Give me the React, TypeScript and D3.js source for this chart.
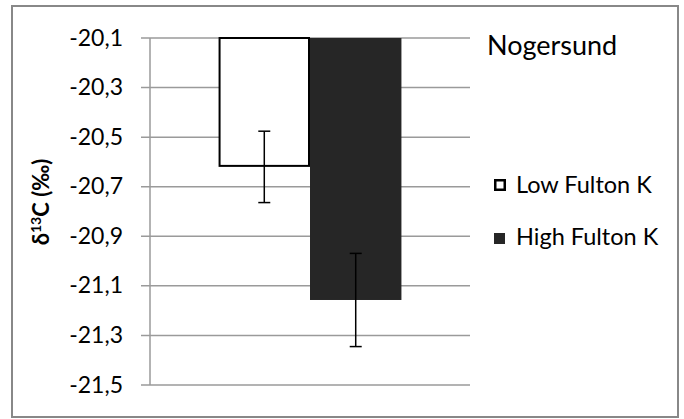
import React from "react";
import * as d3 from "d3";

// Bar chart of δ13C for low / high Fulton K groups at Nogersund
const site = "Nogersund";
const seriesNames = ["Low Fulton K", "High Fulton K"];
const meanValues = [-20.62, -21.157];
const errorValues = [0.144, 0.188];
const seriesFills = ["#ffffff", "#262626"];
const seriesStrokes = ["#000000", "none"];
const tickValues = [-20.1, -20.3, -20.5, -20.7, -20.9, -21.1, -21.3, -21.5];

const W = 684;
const H = 419;
const plot = { left: 150, right: 470, top: 38, bottom: 385 };
const FONT = "Lato, 'Open Sans', sans-serif";

export default function App() {
  const y = d3.scaleLinear().domain([-20.1, -21.5]).range([plot.top, plot.bottom]);
  const xCat = d3.scaleBand<string>().domain([site]).range([plot.left, plot.right]).paddingInner(0).paddingOuter(0.375);
  const xSeries = d3.scaleBand<string>().domain(seriesNames).range([0, xCat.bandwidth()]);
  const fmt = (v: number) => v.toFixed(1).replace(".", ",");
  const base = y.domain()[0];

  return (
    <svg width={W} height={H} style={{ position: "absolute", left: 0, top: 0, background: "#fff" }} fontFamily={FONT}>
      <rect x={12} y={6} width={666} height={411} fill="#fff" stroke="#888" strokeWidth={2} />
      {/* gridlines and ticks */}
      {tickValues.map((t) => (
        <g key={t}>
          <line x1={plot.left - 9} x2={plot.right} y1={y(t)} y2={y(t)} stroke="#9a9a9a" strokeWidth={1.5} />
          <text x={123} y={y(t) + 7.5} textAnchor="end" fontSize={23} fill="#000">
            {fmt(t)}
          </text>
        </g>
      ))}
      <line x1={plot.left} x2={plot.left} y1={plot.top} y2={plot.bottom} stroke="#9a9a9a" strokeWidth={1.5} />
      {/* bars */}
      {seriesNames.map((s, i) => {
        const x0 = (xCat(site) as number) + (xSeries(s) as number);
        const bw = xSeries.bandwidth();
        const yTop = y(base);
        const yBot = y(meanValues[i]);
        return (
          <g key={s}>
            {seriesStrokes[i] === "none" ? (
              <rect x={x0} y={yTop} width={bw} height={yBot - yTop} fill={seriesFills[i]} />
            ) : (
              <rect x={x0 + 1} y={yTop} width={bw - 2} height={yBot - yTop - 1} fill={seriesFills[i]} stroke={seriesStrokes[i]} strokeWidth={2} />
            )}
          </g>
        );
      })}
      {/* error bars */}
      {seriesNames.map((s, i) => {
        const x0 = (xCat(site) as number) + (xSeries(s) as number);
        const cx = x0 + xSeries.bandwidth() / 2;
        const y1 = y(meanValues[i] + errorValues[i]);
        const y2 = y(meanValues[i] - errorValues[i]);
        return (
          <g key={s + "-err"} stroke="#000" strokeWidth={1.5}>
            <line x1={cx} x2={cx} y1={y1} y2={y2} />
            <line x1={cx - 6} x2={cx + 6} y1={y1} y2={y1} />
            <line x1={cx - 6} x2={cx + 6} y1={y2} y2={y2} />
          </g>
        );
      })}
      {/* axis title */}
      <text transform="translate(49,202) rotate(-90)" textAnchor="middle" fontSize={22} fontWeight="bold" fill="#000">
        δ<tspan fontSize={14} dy={-8}>13</tspan>
        <tspan dy={8}>C (‰)</tspan>
      </text>
      {/* site label and legend */}
      <text x={487} y={55} fontSize={27} fill="#000">{site}</text>
      {seriesNames.map((s, i) => (
        <g key={s + "-leg"}>
          {seriesStrokes[i] === "none" ? (
            <rect x={494} y={233} width={11} height={11} fill={seriesFills[i]} />
          ) : (
            <rect x={495.25} y={180.25} width={9.5} height={9.5} fill={seriesFills[i]} stroke={seriesStrokes[i]} strokeWidth={2.5} />
          )}
          <text x={516} y={i === 0 ? 193 : 245} fontSize={23.5} fill="#000">{s}</text>
        </g>
      ))}
    </svg>
  );
}
